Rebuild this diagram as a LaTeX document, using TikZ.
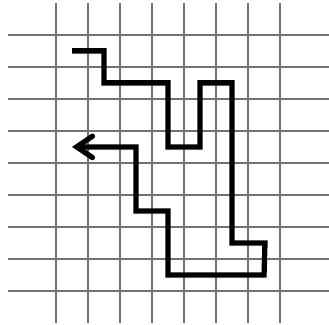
\documentclass[tikz,border=0pt]{standalone}
\usetikzlibrary{arrows.meta}

\begin{document}
\begin{tikzpicture}[gridline/.style={draw=black!55, line width=1.3pt},
    route/.style={draw=black, line width=4.7pt, miter limit=10}]
  \useasboundingbox (-1.75,-1.06) rectangle (8.53,9.09);
  % grid
  \foreach \i in {0,...,7} \draw[gridline] (\i,-1) -- (\i,9);
  \foreach \j in {0,...,8} \draw[gridline] (-1.5,\j) -- (8.55,\j);
  % path through the cells
  \draw[route, -{Straight Barb[length=14pt, width=19pt, line cap=round]}]
    (0.5,7.5) -- (1.5,7.5) -- (1.5,6.5) -- (3.5,6.5) -- (3.5,4.5) -- (4.5,4.5)
    -- (4.5,6.5) -- (5.5,6.5) -- (5.5,1.5) -- (6.53,1.5) -- (6.5,0.5) -- (3.5,0.5)
    -- (3.5,2.5) -- (2.5,2.5) -- (2.5,4.5) -- (0.5,4.5);
\end{tikzpicture}
\end{document}
